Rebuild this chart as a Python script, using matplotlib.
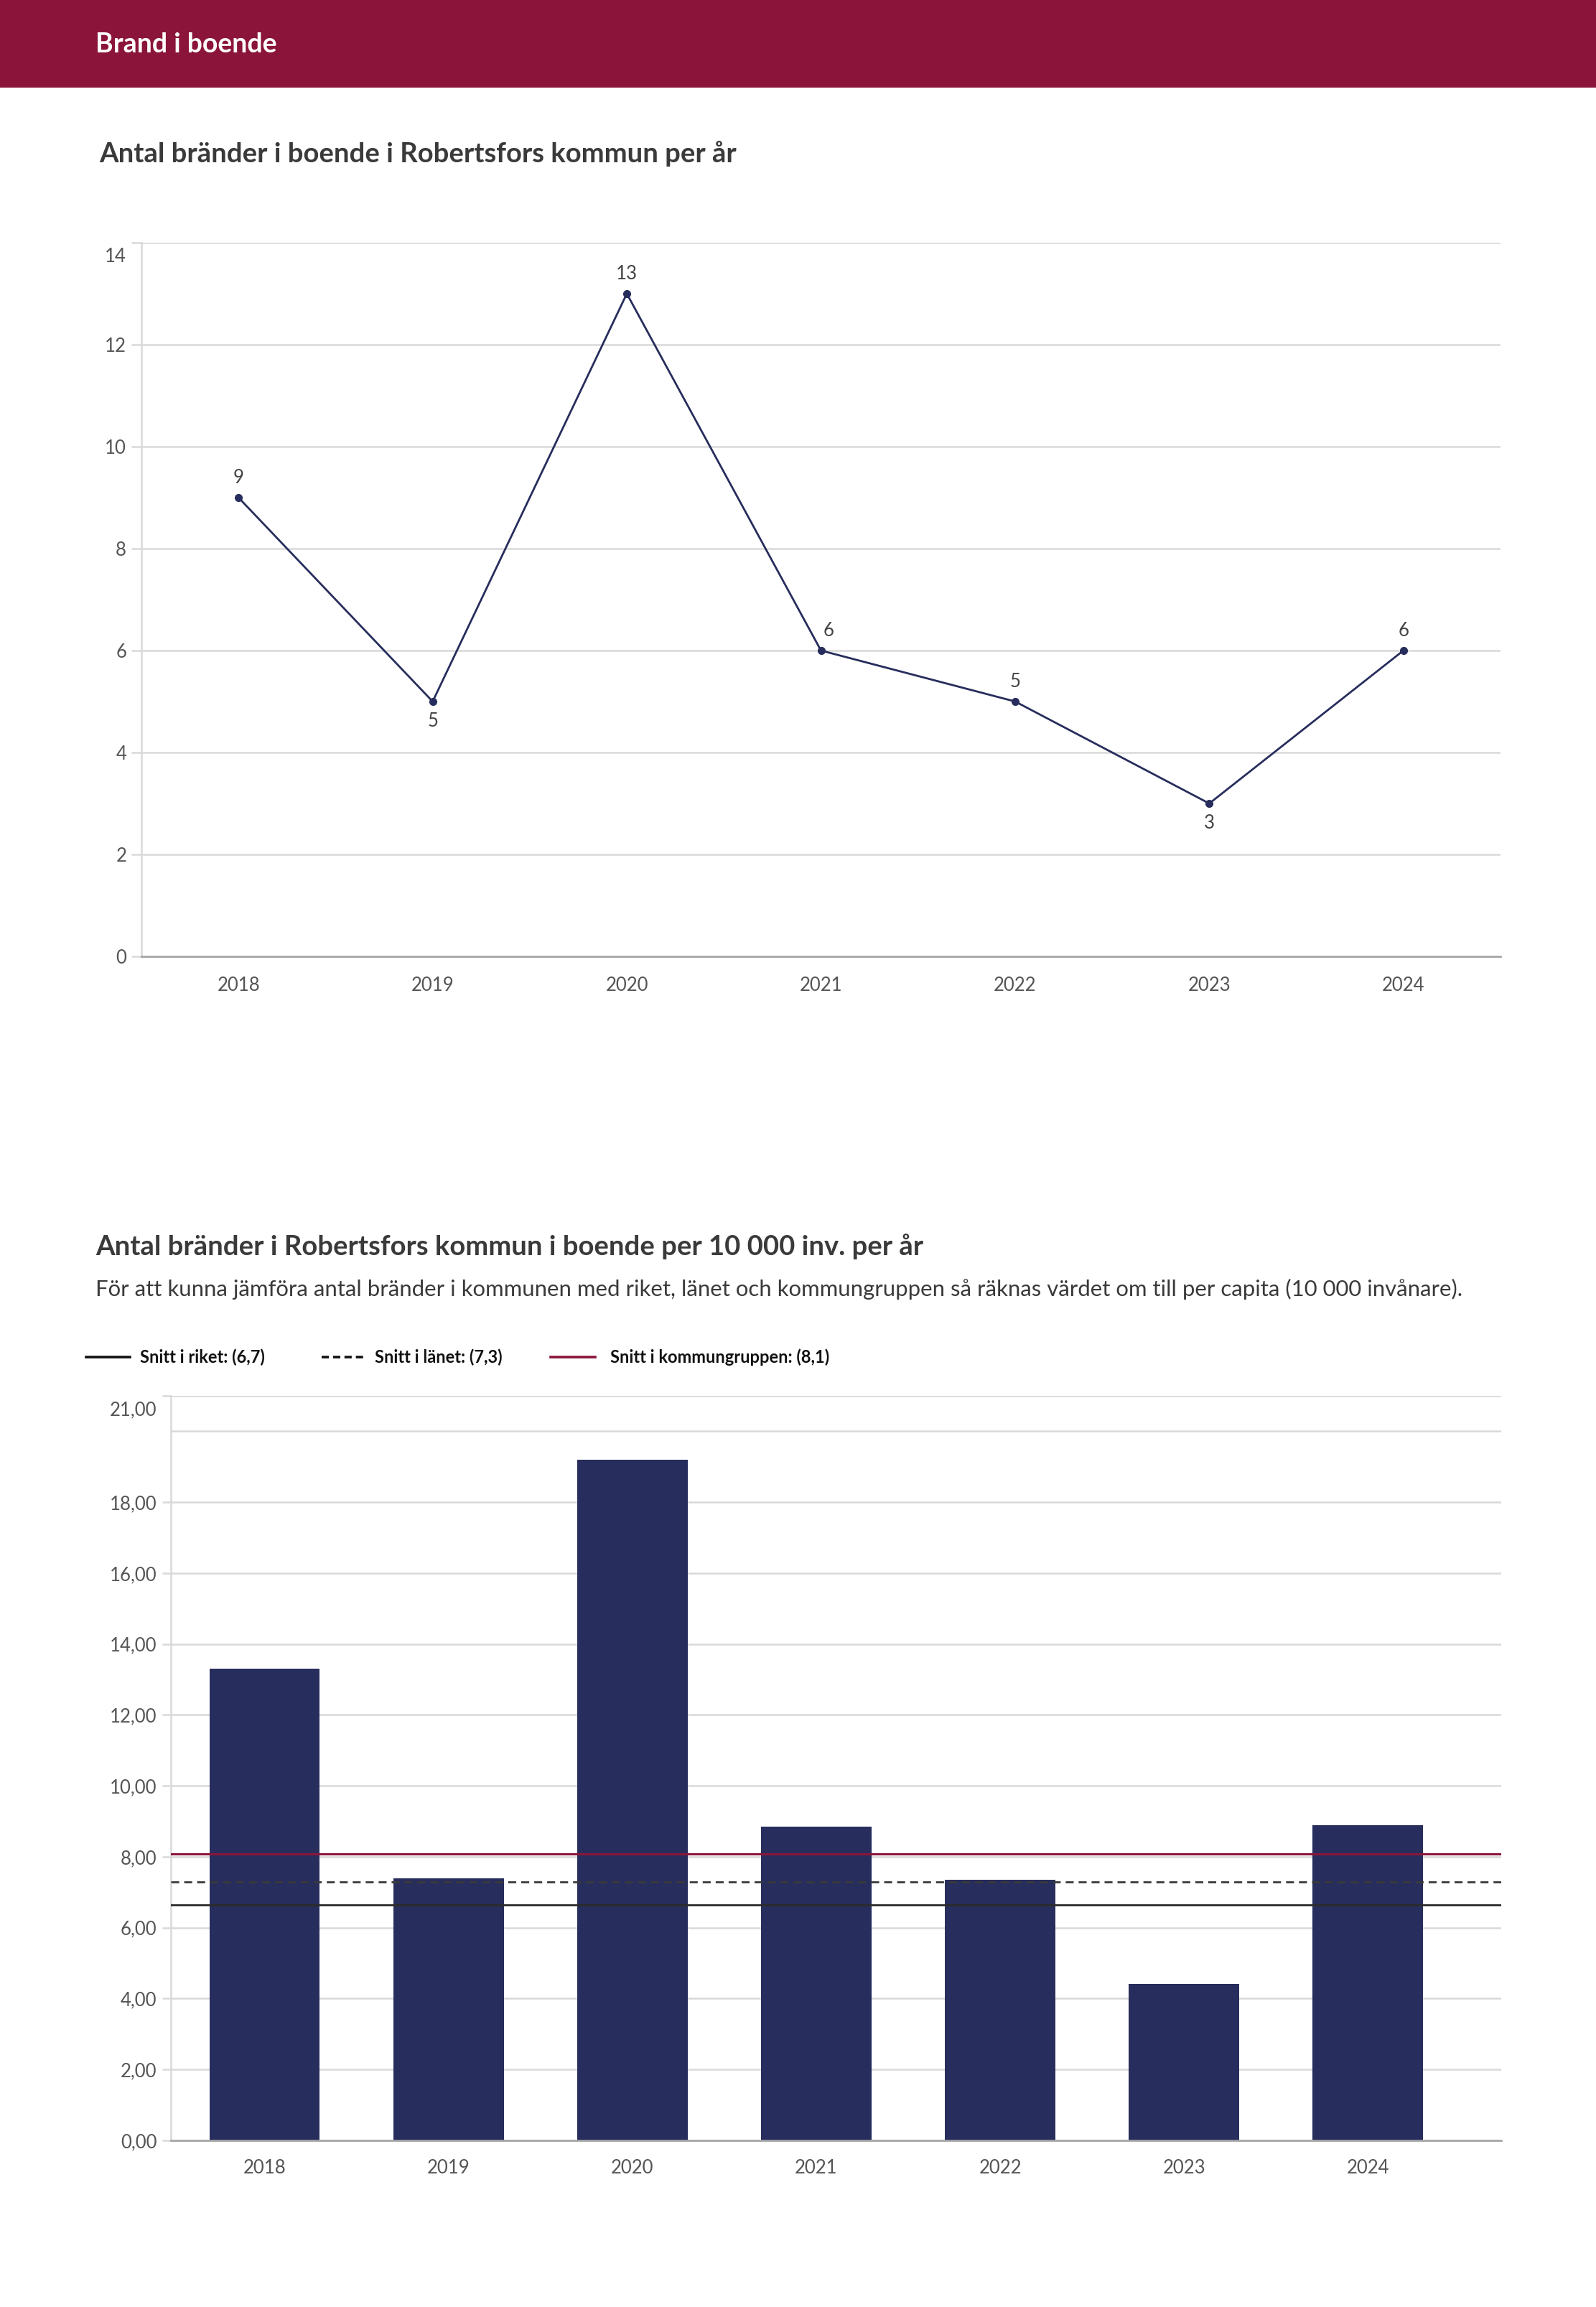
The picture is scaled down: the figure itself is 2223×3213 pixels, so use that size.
import matplotlib
matplotlib.use("Agg")
import matplotlib.pyplot as plt
import numpy as np
from matplotlib.lines import Line2D
from matplotlib.patches import Rectangle
from matplotlib.transforms import ScaledTranslation

plt.rcParams['font.family'] = ['Lato', 'DejaVu Sans']

# ---------------- data ----------------
years = ['2018', '2019', '2020', '2021', '2022', '2023', '2024']
fires = [9, 5, 13, 6, 5, 3, 6]
fires_per_10k = [13.3, 7.39, 19.2, 8.85, 7.36, 4.42, 8.9]
snitt_riket = 6.65
snitt_lanet = 7.3
snitt_kommungrupp = 8.07
legend_labels = ['Snitt i riket: (6,7)', 'Snitt i länet: (7,3)', 'Snitt i kommungruppen: (8,1)']
label_below = [False, True, False, False, False, True, False]
label_dx = [0, 0, 0, 8, 0, 0, 0]

header_text = 'Brand i boende'
title1 = 'Antal bränder i boende i Robertsfors kommun per år'
title2 = 'Antal bränder i Robertsfors kommun i boende per 10 000 inv. per år'
subtitle2 = ('För att kunna jämföra antal bränder i kommunen med riket, länet och '
             'kommungruppen så räknas värdet om till per capita (10 000 invånare).')

# ---------------- style ----------------
W, H = 2223, 3213
RED = '#8B153A'
NAVY = '#272D5C'
GRID = '#d9d9d9'
TICKC = '#555555'
TITLEC = '#3a3a3a'

fig = plt.figure(figsize=(W / 100, H / 100), dpi=100)
fig.patch.set_facecolor('white')

# header band
fig.add_artist(Rectangle((0, 1 - 122 / H), 1, 122 / H, transform=fig.transFigure,
                         facecolor=RED, edgecolor='none', zorder=0))
fig.text(133 / W, 1 - 73 / H, header_text, color='white', fontsize=27,
         fontweight='bold', va='baseline', ha='left')

fig.text(138 / W, 1 - 226 / H, title1, color=TITLEC, fontsize=27.5,
         fontweight='bold', va='baseline', ha='left')

# ---------------- top chart ----------------
x = np.arange(len(years))
ax1 = fig.add_axes([197 / W, 1 - 1332 / H, (2090 - 197) / W, (1332 - 338) / H])
ax1.plot(x, fires, color=NAVY, lw=2.0, marker='o', ms=7, zorder=3, clip_on=False)
ax1.set_xlim(-0.5, len(years) - 0.5)
ax1.set_ylim(0, 14)
ax1.set_yticks(range(0, 15, 2))
ax1.set_xticks(x, years)
ax1.yaxis.grid(True, color=GRID, lw=1.8)
ax1.set_axisbelow(True)
for s in ['top', 'right']:
    ax1.spines[s].set_visible(False)
ax1.spines['left'].set_color(GRID)
ax1.spines['left'].set_linewidth(1.8)
ax1.spines['bottom'].set_color('#a6a6a6')
ax1.spines['bottom'].set_linewidth(2)
ax1.tick_params(axis='y', length=10, width=1.8, color=GRID, pad=5,
                labelsize=18.5, labelcolor=TICKC)
ax1.tick_params(axis='x', length=0, pad=20, labelsize=18.5, labelcolor=TICKC)

for i, v in enumerate(fires):
    if label_below[i]:
        ax1.annotate(str(v), (x[i], v), xytext=(label_dx[i], -11), textcoords='offset points',
                     ha='center', va='top', fontsize=18.5, color='#444444')
    else:
        ax1.annotate(str(v), (x[i], v), xytext=(label_dx[i], 11), textcoords='offset points',
                     ha='center', va='bottom', fontsize=18.5, color='#444444')

# ---------------- bottom chart ----------------
fig.text(133 / W, 1 - 1748 / H, title2, color=TITLEC, fontsize=27.5,
         fontweight='bold', va='baseline', ha='left')
fig.text(133 / W, 1 - 1805 / H, subtitle2, color=TITLEC, fontsize=22.4,
         va='baseline', ha='left')

# legend (manual)
ly = 1 - 1890 / H
legend_items = [
    (120, 181, 195, dict(color='#111111', lw=2.6, ls='-'), legend_labels[0]),
    (448, 507, 522, dict(color='#111111', lw=2.6, ls=(0, (2.8, 1.6))), legend_labels[1]),
    (767, 829, 850, dict(color=RED, lw=2.6, ls='-'), legend_labels[2]),
]
for x0, x1, tx, st, lab in legend_items:
    fig.add_artist(Line2D([x0 / W, x1 / W], [ly, ly], transform=fig.transFigure, **st))
    fig.text(tx / W, ly, lab, fontsize=17, fontweight='bold', color='#111111',
             va='center', ha='left')

ax2 = fig.add_axes([238 / W, 1 - 2981 / H, (2091 - 238) / W, (2981 - 1944) / H])
ax2.bar(x, fires_per_10k, width=0.6, color=NAVY, zorder=2)
ax2.axhline(snitt_riket, color='#2b2b2b', lw=2, zorder=3)
ax2.axhline(snitt_lanet, color='#3a3a3a', lw=2, ls=(0, (4, 2.5)), zorder=3)
ax2.axhline(snitt_kommungrupp, color=RED, lw=2.2, zorder=3)
ax2.set_xlim(-0.51, len(years) - 1 + 0.725)
ax2.set_ylim(0, 21)
yt = [0, 2, 4, 6, 8, 10, 12, 14, 16, 18, 21]
ax2.set_yticks(yt, [f"{v:.2f}".replace('.', ',') for v in yt])
ax2.set_yticks([20], minor=True)
ax2.set_xticks(x, years)
ax2.yaxis.grid(True, which='both', color=GRID, lw=1.8)
ax2.set_axisbelow(True)
for s in ['top', 'right']:
    ax2.spines[s].set_visible(False)
ax2.spines['left'].set_color(GRID)
ax2.spines['left'].set_linewidth(1.8)
ax2.spines['bottom'].set_color('#a6a6a6')
ax2.spines['bottom'].set_linewidth(2)
ax2.tick_params(axis='y', which='major', length=9, width=1.8, color=GRID, pad=5,
                labelsize=18.5, labelcolor=TICKC)
ax2.tick_params(axis='y', which='minor', length=0)
ax2.tick_params(axis='x', length=0, pad=19, labelsize=18.5, labelcolor=TICKC)

# shift top tick labels slightly down, as in the reference
for ax in (ax1, ax2):
    lbl = ax.get_yticklabels()[-1]
    lbl.set_transform(lbl.get_transform() + ScaledTranslation(0, -0.17, fig.dpi_scale_trans))

fig.savefig('out.png', dpi=100, facecolor='white')
